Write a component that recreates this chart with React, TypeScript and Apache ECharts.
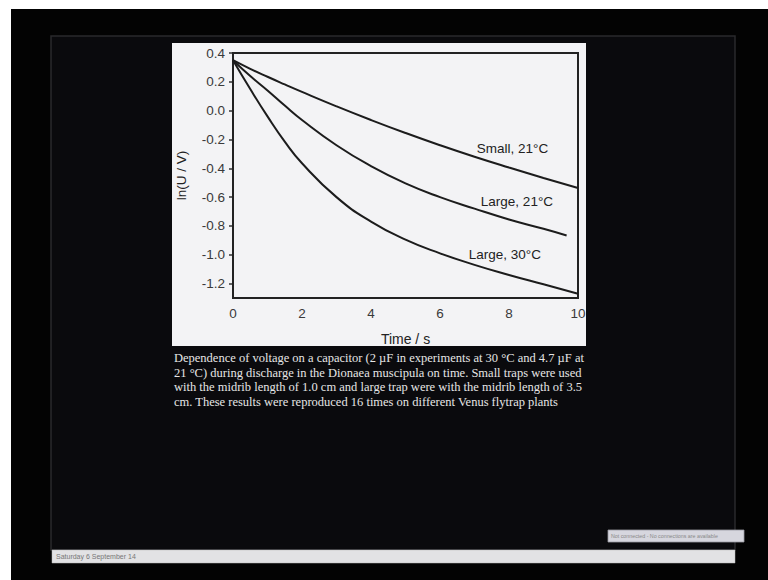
import React, { useEffect, useRef } from "react";
import * as echarts from "echarts";

const timesFull = [0, 0.5, 1, 1.5, 2, 3, 4, 5, 6, 7, 8, 9, 10];
const small21 = [0.35, 0.29, 0.235, 0.182, 0.13, 0.03, -0.065, -0.155, -0.24, -0.32, -0.395, -0.467, -0.537];
const timesLarge21 = [0, 0.5, 1, 1.5, 2, 3, 4, 5, 6, 7, 8, 9, 9.67];
const large21 = [0.35, 0.24, 0.14, 0.035, -0.065, -0.24, -0.385, -0.505, -0.6, -0.68, -0.755, -0.82, -0.866];
const large30 = [0.35, 0.15, -0.04, -0.215, -0.365, -0.6, -0.77, -0.895, -0.99, -1.07, -1.14, -1.205, -1.27];

const seriesNames = ["Small, 21°C", "Large, 21°C", "Large, 30°C"];
const labelPos: [number, number][] = [
  [8.1, -0.26],
  [8.23, -0.63],
  [7.88, -1.0],
];

// tick labels
const xTicks = [0, 2, 4, 6, 8, 10];
const yTickMin = -1.2;
const yTickMax = 0.4;
const yTickStep = 0.2;
// plot range
const yMin = -1.3;
const yMax = 0.4;

const captionLines = [
  "Dependence of voltage on a capacitor (2 µF in experiments at 30 °C and 4.7 µF at",
  "21 °C) during discharge in the Dionaea muscipula on time. Small traps were used",
  "with the midrib length of 1.0 cm and large trap were with the midrib length of 3.5",
  "cm. These results were reproduced 16 times on different Venus flytrap plants",
];

const footerDate = "Saturday 6 September 14";
const notice = "Not connected - No connections are available";

function pairs(xs: number[], ys: number[]) {
  return xs.map((x, i) => [x, ys[i]]);
}

export default function App() {
  const ref = useRef<HTMLDivElement>(null);
  useEffect(() => {
    if (!ref.current) return;
    const chart = echarts.init(ref.current, null, { renderer: "svg" });
    const lineColor = "#1c1c1c";
    const sans = "Liberation Sans, Arial, sans-serif";
    const mkSeries = (name: string, data: number[][], lp: [number, number]) => ({
      name,
      type: "line",
      data,
      smooth: 0.5,
      showSymbol: false,
      symbol: "none",
      lineStyle: { color: lineColor, width: 2 },
      z: 5,
      markPoint: {
        symbol: "rect",
        symbolSize: 1,
        itemStyle: { color: "rgba(0,0,0,0)" },
        label: {
          show: true,
          position: "inside",
          formatter: name,
          color: "#222",
          fontSize: 13.5,
          fontFamily: sans,
        },
        data: [{ coord: lp }],
      },
    });
    const captionFont = "Liberation Serif, 'Times New Roman', serif";
    const plotTop = 53;
    const plotBottom = 298;
    const tickBottomPx = plotBottom - ((yTickMin - yMin) / (yMax - yMin)) * (plotBottom - plotTop);
    chart.setOption({
      animation: false,
      backgroundColor: "#ffffff",
      graphic: [
        { type: "rect", z: -100, shape: { x: 11, y: 9, width: 757, height: 571 }, style: { fill: "#030303" }, silent: true },
        { type: "rect", z: -99, shape: { x: 51, y: 36, width: 684, height: 514 }, style: { fill: "#0a0a0d", stroke: "#2a2a2c", lineWidth: 1.5 }, silent: true },
        { type: "rect", z: -98, shape: { x: 172, y: 43, width: 414, height: 303 }, style: { fill: "#f3f3f5" }, silent: true },
        { type: "rect", z: -98, shape: { x: 52, y: 550, width: 683, height: 13 }, style: { fill: "#e2e2e4", stroke: "#bbbbbb", lineWidth: 0.5 }, silent: true },
        { type: "text", z: 10, x: 56, y: 556.5, style: { text: footerDate, fill: "#777", fontSize: 7, fontFamily: sans, verticalAlign: "middle" }, silent: true },
        { type: "rect", z: -98, shape: { x: 608, y: 530, width: 136, height: 12 }, style: { fill: "#d6d6de", stroke: "#9a9aa2", lineWidth: 0.8 }, silent: true },
        { type: "text", z: 10, x: 611, y: 536, style: { text: notice, fill: "#888", fontSize: 5.3, fontFamily: sans, verticalAlign: "middle" }, silent: true },
        ...captionLines.map((t, i) => ({
          type: "text",
          z: 10,
          x: 174,
          y: 358 + i * 14.5,
          silent: true,
          style: { text: t, fill: "#e6e6e6", fontSize: 12.5, fontFamily: captionFont, verticalAlign: "middle" },
        })),
      ],
      grid: [
        {
          left: 233,
          right: 190,
          top: plotTop,
          bottom: 580 - plotBottom,
          show: true,
          backgroundColor: "#f3f3f5",
          borderColor: "#222",
          borderWidth: 2,
          z: 1,
        },
        {
          left: 233,
          right: 190,
          top: plotTop,
          bottom: 580 - tickBottomPx,
          show: false,
        },
      ],
      xAxis: [
        {
          type: "value",
          gridIndex: 0,
          min: 0,
          max: 10,
          interval: 2,
          name: "Time / s",
          nameLocation: "middle",
          nameGap: 34,
          nameTextStyle: { color: "#222", fontSize: 14, fontFamily: sans },
          axisLine: { show: true, lineStyle: { color: "#222", width: 2 } },
          axisTick: { show: true, inside: false, length: 4, lineStyle: { color: "#333", width: 1.5 } },
          axisLabel: {
            color: "#3a3a3a",
            fontSize: 13.5,
            margin: 8,
            fontFamily: sans,
            formatter: (v: number) => (xTicks.includes(v) ? String(v) : ""),
          },
          splitLine: { show: false },
        },
        {
          type: "value",
          gridIndex: 1,
          min: 0,
          max: 10,
          show: false,
        },
      ],
      yAxis: [
        {
          type: "value",
          gridIndex: 0,
          min: yMin,
          max: yMax,
          interval: 0.1,
          name: "ln(U / V)",
          nameLocation: "middle",
          nameGap: 45,
          nameRotate: 90,
          nameTextStyle: { color: "#222", fontSize: 13.5, fontFamily: sans },
          axisLine: { show: true, lineStyle: { color: "#222", width: 2 } },
          axisTick: { show: false },
          axisLabel: { show: false },
          splitLine: { show: false },
        },
        {
          type: "value",
          gridIndex: 1,
          min: yTickMin,
          max: yTickMax,
          interval: yTickStep,
          axisLine: { show: false },
          axisTick: { show: true, inside: false, length: 4, lineStyle: { color: "#333", width: 1.5 } },
          axisLabel: {
            color: "#3a3a3a",
            fontSize: 13.5,
            margin: 8,
            fontFamily: sans,
            formatter: (v: number) => v.toFixed(1),
          },
          splitLine: { show: false },
        },
      ],
      series: [
        mkSeries(seriesNames[0], pairs(timesFull, small21), labelPos[0]),
        mkSeries(seriesNames[1], pairs(timesLarge21, large21), labelPos[1]),
        mkSeries(seriesNames[2], pairs(timesFull, large30), labelPos[2]),
      ],
    });
    return () => chart.dispose();
  }, []);
  return (
    <div
      ref={ref}
      style={{ position: "fixed", left: 0, top: 0, width: 768, height: 580 }}
    />
  );
}
